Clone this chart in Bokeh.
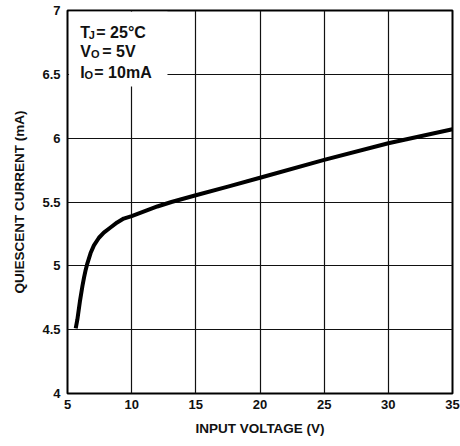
from bokeh.plotting import figure
from bokeh.models import FixedTicker, Label, BoxAnnotation, Range1d
from bokeh.embed import file_html
from bokeh.resources import INLINE

# ---- data ----
input_voltage = [5.64, 5.77, 5.98, 6.16, 6.29, 6.42, 6.55, 6.80, 7.06, 7.45, 7.83, 8.35, 8.87,
                 9.38, 10.0, 12.0, 13.1, 15.0, 17.5, 20.0, 25.0, 30.0, 35.0]
quiescent_ma = [4.51, 4.58, 4.73, 4.84, 4.91, 4.97, 5.02, 5.10, 5.16, 5.22, 5.26, 5.30, 5.34,
                5.37, 5.39, 5.465, 5.50, 5.553, 5.62, 5.69, 5.83, 5.96, 6.07]

x_ticks = [5, 10, 15, 20, 25, 30, 35]
y_ticks = [4, 4.5, 5, 5.5, 6, 6.5, 7]
y_tick_labels = ["4", "4.5", "5", "5.5", "6", "6.5", "7"]

x_title = "INPUT VOLTAGE (V)"
y_title = "QUIESCENT CURRENT (mA)"
cond_main = ["T", "V", "I"]
cond_sub = ["J", "O", "O"]
cond_rest = ["= 25°C", "= 5V", "= 10mA"]

FONT = "Liberation Sans"

p = figure(width=460, height=446, output_backend="svg", toolbar_location=None,
           x_range=Range1d(5, 35), y_range=Range1d(4, 7),
           min_border_left=67, min_border_right=8, min_border_top=10, min_border_bottom=53)
p.background_fill_color = "white"
p.border_fill_color = "white"
p.outline_line_color = "black"
p.outline_line_width = 2

p.xaxis.ticker = FixedTicker(ticks=x_ticks)
p.yaxis.ticker = FixedTicker(ticks=y_ticks)
p.yaxis.major_label_overrides = dict(zip(y_ticks, y_tick_labels))

for ax in (p.xaxis[0], p.yaxis[0]):
    ax.axis_line_color = None
    ax.major_tick_line_color = None
    ax.minor_tick_line_color = None
    ax.major_tick_out = 0
    ax.major_tick_in = 0
    ax.minor_tick_out = 0
    ax.minor_tick_in = 0
    ax.major_label_text_font = FONT
    ax.major_label_text_font_style = "bold"
    ax.major_label_text_font_size = "13px"
    ax.major_label_text_color = "#111111"
    ax.axis_label_text_font = FONT
    ax.axis_label_text_font_style = "bold"
    ax.axis_label_text_font_size = "13.5px"
    ax.axis_label_text_color = "#111111"

p.xaxis.axis_label = x_title
p.yaxis.axis_label = y_title
p.xaxis.major_label_standoff = 6
p.xaxis.axis_label_standoff = 9
p.yaxis.major_label_standoff = 7
p.yaxis.axis_label_standoff = 12

p.xgrid.ticker = FixedTicker(ticks=x_ticks)
p.ygrid.ticker = FixedTicker(ticks=y_ticks)
for g in (p.xgrid[0], p.ygrid[0]):
    g.grid_line_color = "#111111"
    g.grid_line_width = 1.2

# white box behind the conditions text
box = BoxAnnotation(left=5.12, right=12.79, bottom=6.405, top=6.99,
                    fill_color="white", fill_alpha=1.0, line_color=None, level="underlay")
p.add_layout(box)

p.line(input_voltage, quiescent_ma, line_color="black", line_width=4, line_join="round")

# condition labels (T_J, V_O, I_O with subscripts)
base_y = [6.83, 6.675, 6.515]
sub_dx = [8.3, 10.7, 4.2]
rest_dx = [16.0, 22.0, 14.0]
for i in range(3):
    p.add_layout(Label(x=6.0, y=base_y[i], text=cond_main[i], text_font=FONT,
                       text_font_style="bold", text_font_size="16px",
                       text_color="#111111", text_baseline="alphabetic"))
    p.add_layout(Label(x=6.0, y=base_y[i], x_offset=sub_dx[i], y_offset=-2.5,
                       text=cond_sub[i], text_font=FONT, text_font_style="bold",
                       text_font_size="11px", text_color="#111111", text_baseline="alphabetic"))
    p.add_layout(Label(x=6.0, y=base_y[i], x_offset=rest_dx[i], text=cond_rest[i],
                       text_font=FONT, text_font_style="bold", text_font_size="16px",
                       text_color="#111111", text_baseline="alphabetic"))

open("out.html", "w").write(file_html(p, INLINE))
